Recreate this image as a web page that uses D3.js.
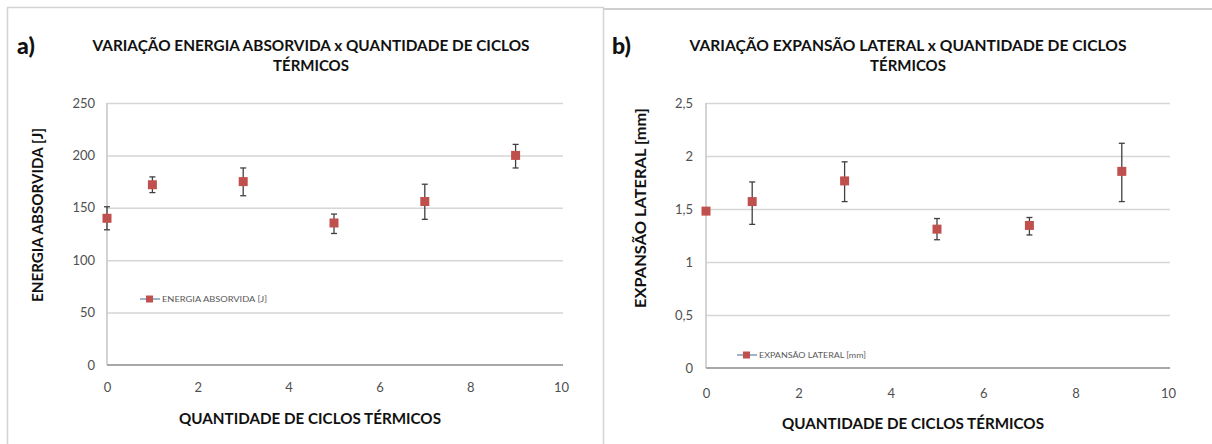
<!DOCTYPE html>
<html>
<head>
<meta charset="utf-8">
<script src="https://cdn.jsdelivr.net/npm/d3@7"></script>
<style>
  html, body { margin: 0; padding: 0; background: #fff; }
  svg { display: block; }
  text { font-family: Lato, "Open Sans", sans-serif; }
</style>
</head>
<body>
<svg id="chart" width="1212" height="444"></svg>
<script>
// ---------- DATA ----------
const xTickValues = [0, 2, 4, 6, 8, 10];

const cyclesA = [0, 1, 3, 5, 7, 9];
const energyMean = [140, 172, 175, 135.5, 156, 200];
const energyLow  = [129, 164.5, 161.5, 125.5, 139, 188];
const energyHigh = [151, 179.5, 188, 144, 172.5, 210.5];
const energyTicks = [0, 50, 100, 150, 200, 250];

const cyclesB = [0, 1, 3, 5, 7, 9];
const expansionMean = [1.48, 1.57, 1.765, 1.31, 1.345, 1.855];
const expansionLow  = [1.48, 1.355, 1.57, 1.21, 1.255, 1.57];
const expansionHigh = [1.48, 1.755, 1.945, 1.41, 1.42, 2.12];
const expansionTicks = [0, 0.5, 1, 1.5, 2, 2.5];

const titleA = ["VARIAÇÃO ENERGIA ABSORVIDA x  QUANTIDADE DE CICLOS", "TÉRMICOS"];
const titleB = ["VARIAÇÃO EXPANSÃO LATERAL x  QUANTIDADE DE CICLOS", "TÉRMICOS"];
const xTitle = "QUANTIDADE DE CICLOS TÉRMICOS";
const yTitleA = "ENERGIA ABSORVIDA [J]";
const yTitleB = "EXPANSÃO LATERAL [mm]";
const legendA = "ENERGIA ABSORVIDA [J]";
const legendB = "EXPANSÃO LATERAL [mm]";

// ---------- DRAW ----------
const svg = d3.select("#chart");

// panel frames
svg.append("rect").attr("x", 7.5).attr("y", 7.5).attr("width", 596).attr("height", 450)
  .attr("fill", "none").attr("stroke", "#d4d4d4").attr("stroke-width", 1.5);
svg.append("line").attr("x1", 603).attr("x2", 1212).attr("y1", 9).attr("y2", 9)
  .attr("stroke", "#cfcfcf").attr("stroke-width", 2);

const fmtComma = v => String(v).replace(".", ",");

function drawPanel(o) {
  const g = svg.append("g");
  const x = d3.scaleLinear().domain([0, 10]).range([o.left, o.right]);
  const y = d3.scaleLinear().domain(o.yDomain).range([o.bottom, o.top]);
  const w = o.right - o.left;

  // gridlines
  const grid = g.append("g").attr("transform", `translate(${o.left},0)`)
    .call(d3.axisLeft(y).tickValues(o.yTicks.filter(t => t !== o.yDomain[0])).tickSize(-w - 2).tickFormat(""));
  grid.select(".domain").remove();
  grid.selectAll("line").attr("stroke", "#d6d6d6").attr("stroke-width", 1.5);

  // y axis line
  g.append("line").attr("x1", o.left).attr("x2", o.left).attr("y1", o.top).attr("y2", o.bottom)
    .attr("stroke", "#c4c4c4").attr("stroke-width", 1.5);
  // x axis line
  g.append("line").attr("x1", o.left).attr("x2", o.right + 2).attr("y1", o.bottom).attr("y2", o.bottom)
    .attr("stroke", "#a8a8a8").attr("stroke-width", 2);

  // y tick labels
  const ya = g.append("g").attr("transform", `translate(${o.left},0)`)
    .call(d3.axisLeft(y).tickValues(o.yTicks).tickSize(0).tickPadding(o.yPad).tickFormat(o.yFmt));
  ya.select(".domain").remove();
  ya.selectAll("text").attr("fill", "#505050").style("font-size", "13px");

  // x tick labels
  const xa = g.append("g").attr("transform", `translate(0,${o.bottom})`)
    .call(d3.axisBottom(x).tickValues(xTickValues).tickSize(0).tickPadding(o.xPad).tickFormat(d3.format("d")));
  xa.select(".domain").remove();
  xa.selectAll("text").attr("fill", "#505050").style("font-size", "13px");

  // error bars
  const eb = g.append("g");
  o.xs.forEach((xv, i) => {
    const lo = o.low[i], hi = o.high[i];
    if (hi - lo <= 0) return;
    eb.append("line").attr("x1", x(xv)).attr("x2", x(xv)).attr("y1", y(hi)).attr("y2", y(lo))
      .attr("stroke", "#404040").attr("stroke-width", 1.3);
    [hi, lo].forEach(v => {
      eb.append("line").attr("x1", x(xv) - 3).attr("x2", x(xv) + 3).attr("y1", y(v)).attr("y2", y(v))
        .attr("stroke", "#404040").attr("stroke-width", 1.3);
    });
  });

  // markers
  g.append("g").selectAll("rect").data(o.xs.map((xv, i) => [xv, o.mean[i]])).join("rect")
    .attr("x", d => x(d[0]) - 4.5).attr("y", d => y(d[1]) - 4.5)
    .attr("width", 9).attr("height", 9).attr("fill", "#c0504d");

  // panel letter
  g.append("text").attr("x", o.letterX).attr("y", 54).text(o.letter)
    .style("font-size", "23px").style("font-weight", "900").attr("fill", "#111");

  // title
  o.title.forEach((t, i) => {
    const tx = g.append("text").attr("x", o.titleX).attr("y", 51 + i * 20).attr("text-anchor", "middle")
      .style("font-size", "15px").style("font-weight", "bold").attr("fill", "#111").text(t);
    if (i === 0) tx.attr("textLength", o.titleLen).attr("lengthAdjust", "spacingAndGlyphs");
  });

  // y title
  g.append("text").attr("transform", `translate(${o.yTitleX},${o.yTitleY}) rotate(-90)`)
    .attr("text-anchor", "middle").style("font-size", "15px").style("font-weight", "bold")
    .attr("fill", "#111").attr("textLength", o.yTitleLen).attr("lengthAdjust", "spacingAndGlyphs")
    .text(o.yTitle);

  // x title
  g.append("text").attr("x", (o.left + o.right) / 2 + o.xTitleDx).attr("y", o.xTitleY)
    .attr("text-anchor", "middle").style("font-size", "16px").style("font-weight", "bold")
    .attr("fill", "#111").attr("textLength", 262).attr("lengthAdjust", "spacingAndGlyphs")
    .text(xTitle);

  // legend
  const lg = g.append("g").attr("transform", `translate(${o.legX},${o.legY})`);
  lg.append("line").attr("x1", 0).attr("x2", 20).attr("y1", 0).attr("y2", 0)
    .attr("stroke", "#7f9bb8").attr("stroke-width", 1.5);
  lg.append("rect").attr("x", 6).attr("y", -3.5).attr("width", 7).attr("height", 7).attr("fill", "#c0504d");
  lg.append("text").attr("x", 22).attr("y", 3).style("font-size", "8px").attr("fill", "#595959")
    .attr("textLength", o.legLen).attr("lengthAdjust", "spacingAndGlyphs").text(o.legText);
}

drawPanel({
  left: 107, right: 561, top: 103, bottom: 365,
  yDomain: [0, 250], yTicks: energyTicks, yFmt: d3.format("d"), yPad: 12, xPad: 18,
  xs: cyclesA, mean: energyMean, low: energyLow, high: energyHigh,
  letter: "a)", letterX: 17, title: titleA, titleX: 311, titleLen: 437,
  yTitle: yTitleA, yTitleX: 43, yTitleY: 215, yTitleLen: 174,
  xTitleDx: -24, xTitleY: 424,
  legX: 140, legY: 299, legText: legendA, legLen: 105
});

drawPanel({
  left: 706, right: 1168, top: 103, bottom: 368,
  yDomain: [0, 2.5], yTicks: expansionTicks, yFmt: fmtComma, yPad: 13, xPad: 21,
  xs: cyclesB, mean: expansionMean, low: expansionLow, high: expansionHigh,
  letter: "b)", letterX: 612, title: titleB, titleX: 908, titleLen: 437,
  yTitle: yTitleB, yTitleX: 646, yTitleY: 208, yTitleLen: 200,
  xTitleDx: -24, xTitleY: 429,
  legX: 737, legY: 355, legText: legendB, legLen: 107
});
</script>
</body>
</html>
